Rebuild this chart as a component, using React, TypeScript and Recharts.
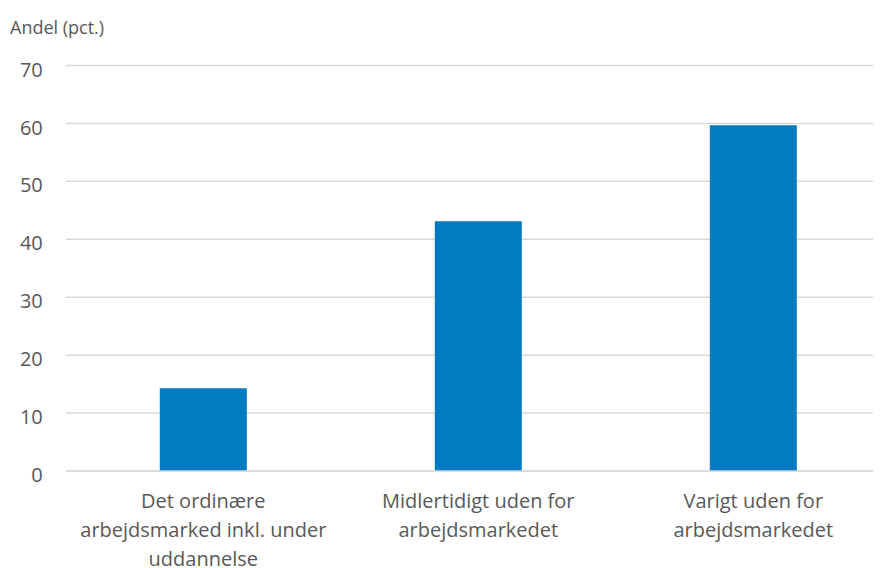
import React from 'react';
import { BarChart, Bar, XAxis, YAxis, CartesianGrid } from 'recharts';

const categories = ['Det ordinære arbejdsmarked inkl. under uddannelse', 'Midlertidigt uden for arbejdsmarkedet', 'Varigt uden for arbejdsmarkedet'];
const categoryLines = [
  ['Det ordinære', 'arbejdsmarked inkl. under', 'uddannelse'],
  ['Midlertidigt uden for', 'arbejdsmarkedet'],
  ['Varigt uden for', 'arbejdsmarkedet'],
];
const shares = [14.3, 43.1, 59.7];
const yTicks = [0, 10, 20, 30, 40, 50, 60, 70];

const data = categories.map((name, i) => ({ name, share: shares[i] }));

const FONT = '"Open Sans", sans-serif';
const GREY = '#595959';

const XTick = (props: any) => {
  const { x, y, index } = props;
  const lines = categoryLines[index] || [];
  return (
    <text x={x} y={y} textAnchor="middle" fill={GREY} fontSize={20} fontFamily={FONT}>
      {lines.map((l, i) => (
        <tspan key={i} x={x} dy={i === 0 ? 37 : 29}>{l}</tspan>
      ))}
    </text>
  );
};

const App: React.FC = () => {
  return (
    <div style={{ position: 'relative', width: 873, height: 560 }}>
      <style>{'html, body { overflow: hidden; }'}</style>
      <div style={{ position: 'absolute', left: 2, top: 7, fontFamily: FONT, fontSize: 18, color: GREY, whiteSpace: 'nowrap' }}>
        Andel (pct.)
      </div>
      {/* plot runs past the right edge, as in the cropped original */}
      <BarChart width={873} height={560} data={data} margin={{ top: 57.5, right: -9.8, left: 0, bottom: 0 }}>
        <CartesianGrid vertical={false} stroke="#d9d9d9" strokeWidth={1.5} />
        <XAxis
          dataKey="name"
          height={97}
          axisLine={{ stroke: '#d9d9d9', strokeWidth: 1.5 }}
          tickLine={false}
          tickSize={0}
          tickMargin={0}
          interval={0}
          tick={<XTick />}
        />
        <YAxis
          width={57.8}
          domain={[0, 70]}
          ticks={yTicks}
          axisLine={false}
          tickLine={false}
          tickSize={0}
          tickMargin={23}
          tick={{ fill: GREY, fontSize: 20, fontFamily: FONT, dy: 4 }}
        />
        <Bar dataKey="share" fill="#007bc2" barSize={87} isAnimationActive={false} />
      </BarChart>
    </div>
  );
};

export default App;
